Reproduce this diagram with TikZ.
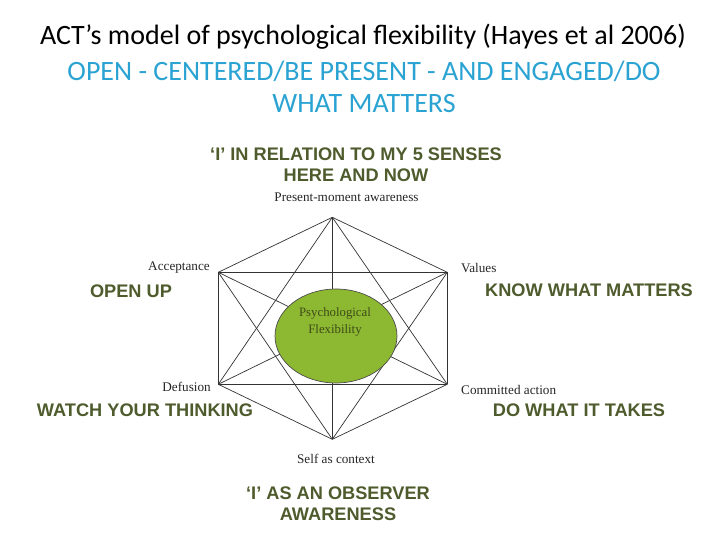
\documentclass[tikz,border=0pt]{standalone}
\usepackage{fontspec}
\setmainfont{Liberation Serif}
\newfontfamily\titlefont{Carlito}
\newfontfamily\labfont{Liberation Sans}
\usetikzlibrary{shapes.geometric}
\definecolor{olivetxt}{HTML}{4E5B2C}
\definecolor{skyblue}{HTML}{2AA3D3}
\definecolor{ellgreen}{HTML}{8DB932}
\definecolor{elltxt}{HTML}{3E4A18}
\begin{document}
\begin{tikzpicture}[x=1pt,y=-1pt,
  vert/.style={inner sep=0pt,minimum size=0pt},
  edge/.style={draw=black!80,line width=0.7pt},
  small/.style={font=\fontsize{13.2}{15}\selectfont,text=black!85,inner sep=0pt},
  big/.style={font=\labfont\bfseries\fontsize{18.2}{21}\selectfont,text=olivetxt,align=center,inner sep=0pt},
  titletxt/.style={font=\titlefont\fontsize{28}{32}\selectfont,align=center,inner sep=0pt}]
\useasboundingbox (0,0) rectangle (720,540);
\fill[white] (0,0) rectangle (720,540);
% title
\node[titletxt] (t1) at (363,37) {ACT’s model of psychological flexibility (Hayes et al 2006)};
\node[titletxt,text=skyblue] (t2) at (364,87) {OPEN - CENTERED/BE PRESENT - AND ENGAGED/DO\\WHAT MATTERS};
% vertices
\node[vert] (P) at (332.3,217.3) {};
\node[vert] (A) at (218.3,272.3) {};
\node[vert] (V) at (447.3,272.3) {};
\node[vert] (D) at (218.3,384.3) {};
\node[vert] (C) at (447.3,384.3) {};
\node[vert] (S) at (332.3,439.3) {};
% edges (complete graph)
\foreach \a/\b in {P/A,P/V,A/D,V/C,D/S,C/S,A/V,D/C,P/D,P/C,S/A,S/V,P/S,A/C,V/D}
  \draw[edge] (\a.center) -- (\b.center);
% ellipse
\node[ellipse,draw=black!70,line width=0.7pt,fill=ellgreen,minimum width=122pt,minimum height=94pt,inner sep=0pt] (E) at (336,336) {};
\node[font=\fontsize{12.8}{17}\selectfont,text=elltxt,align=center,inner sep=0pt] (Et) at (335,321.5) {Psychological\\Flexibility};
% small labels
\node[small] (lp) at (346.5,197) {Present-moment awareness};
\node[small,anchor=east] (la) at (210,268) {Acceptance};
\node[small,anchor=west] (lv) at (461,268) {Values};
\node[small,anchor=east] (ld) at (211,387) {Defusion};
\node[small,anchor=west] (lc) at (461,390) {Committed action};
\node[small] (ls) at (336,459) {Self as context};
% big labels
\node[big] (b1) at (356,164.5) {‘I’ IN RELATION TO MY 5 SENSES\\HERE AND NOW};
\node[big] (b2) at (131,291) {OPEN UP};
\node[big] (b3) at (589,290) {KNOW WHAT MATTERS};
\node[big] (b4) at (145,410) {WATCH YOUR THINKING};
\node[big] (b5) at (579,410) {DO WHAT IT TAKES};
\node[big] (b6) at (338,504) {‘I’ AS AN OBSERVER\\AWARENESS};
\end{tikzpicture}
\end{document}
